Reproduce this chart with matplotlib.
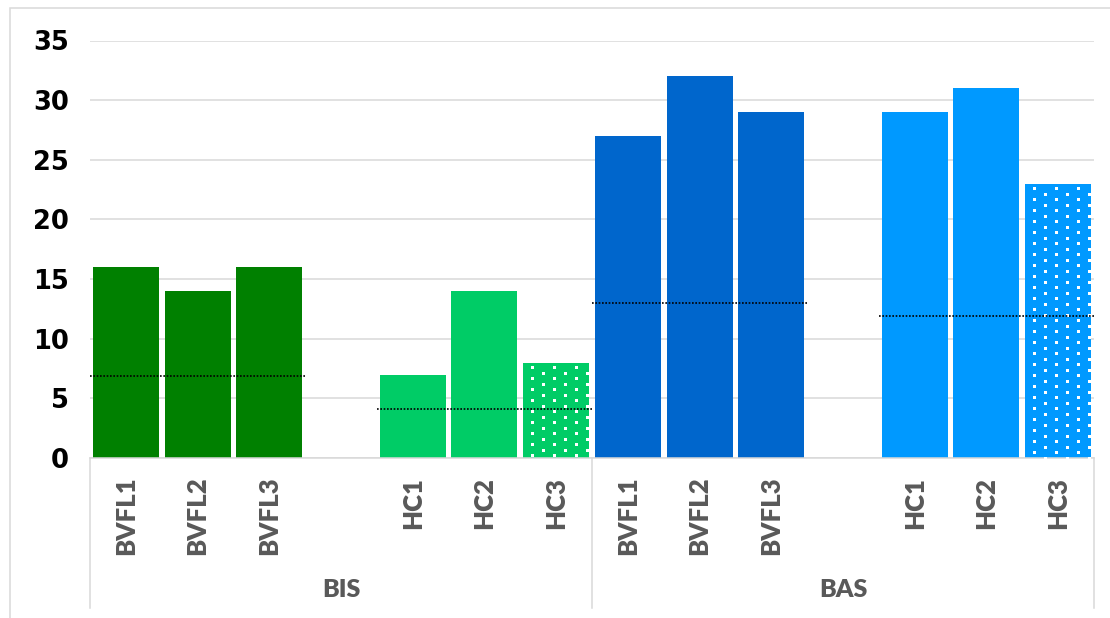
import numpy as np
import matplotlib
matplotlib.use("Agg")
import matplotlib.pyplot as plt
from matplotlib.patches import Rectangle
from matplotlib.transforms import blended_transform_factory

# ---- data -------------------------------------------------------------
groups = ["BIS", "BAS"]
subjects = ["BVFL1", "BVFL2", "BVFL3", "HC1", "HC2", "HC3"]

bis_bvfl = [16, 14, 16]
bis_hc = [7, 14, 8]
bas_bvfl = [27, 32, 29]
bas_hc = [29, 31, 23]

# group reference levels (dotted lines)
bis_bvfl_ref = 6.9
bis_hc_ref = 4.1
bas_bvfl_ref = 13.0
bas_hc_ref = 11.9

y_ticks = [0, 5, 10, 15, 20, 25, 30, 35]

# ---- style -------------------------------------------------------------
C_BIS_BVFL = "#008000"
C_BIS_HC = "#00CC66"
C_BAS_BVFL = "#0066CC"
C_BAS_HC = "#0099FF"
GRID = "#D9D9D9"
TXT_GRAY = "#595959"
LABEL_FONT = "Lato"
LABEL_WEIGHT = 800

W, H, DPI = 1110, 618, 100
fig = plt.figure(figsize=(W / DPI, H / DPI), dpi=DPI)
fig.patch.set_facecolor("white")

ax_l, ax_r, ax_b, ax_t = 90, 1094, 458, 40.5
ax = fig.add_axes([ax_l / W, (H - ax_b) / H, (ax_r - ax_l) / W, (ax_b - ax_t) / H])

# slot layout: each group has 3 BVFL bars, an empty slot, then 3 HC bars
series = [
    (bis_bvfl, 0, C_BIS_BVFL, bis_bvfl_ref),
    (bis_hc, 4, C_BIS_HC, bis_hc_ref),
    (bas_bvfl, 7, C_BAS_BVFL, bas_bvfl_ref),
    (bas_hc, 11, C_BAS_HC, bas_hc_ref),
]
bar_w = 0.92

ax.set_xlim(-0.5, 13.5)
ax.set_ylim(0, 35)

patterned = []
tick_pos, tick_lab = [], []
for vals, start, color, ref in series:
    xs = np.arange(start, start + len(vals))
    bars = ax.bar(xs, vals, width=bar_w, color=color, linewidth=0, zorder=2)
    # third HC bar carries a dotted fill pattern
    if start in (4, 11):
        patterned.append(bars[-1])
    names = subjects[:3] if start in (0, 7) else subjects[3:]
    tick_pos.extend(xs)
    tick_lab.extend(names)
    ax.plot([start - 0.5, start + 2.5], [ref, ref], color="black",
            lw=1.2, linestyle=(0, (1, 1)), zorder=4)

# gridlines and axes
ax.set_yticks(y_ticks)
ax.set_yticklabels([str(v) for v in y_ticks], fontsize=18.5, fontweight="bold",
                   color="black", fontfamily="DejaVu Sans")
ax.yaxis.grid(True, color=GRID, linewidth=1.1, zorder=0)
ax.set_axisbelow(True)
for s in ["left", "right", "top"]:
    ax.spines[s].set_visible(False)
ax.spines["bottom"].set_color(GRID)
ax.spines["bottom"].set_linewidth(1.1)
ax.tick_params(axis="y", length=0, pad=15)

ax.set_xticks(tick_pos)
ax.set_xticklabels(tick_lab, rotation=90, fontsize=18.5, fontweight=LABEL_WEIGHT,
                   color=TXT_GRAY, fontfamily=LABEL_FONT)
ax.tick_params(axis="x", length=0, pad=13.5)

# white dot pattern (staggered lattice) clipped to the patterned bars
fig.canvas.draw()
for bar in patterned:
    x0, y0 = bar.get_x(), 0
    x1, y1 = bar.get_x() + bar.get_width(), bar.get_height()
    (px0, py0), (px1, py1) = ax.transData.transform([(x0, y0), (x1, y1)])
    pts = []
    dx, dy = 22.0, 11.0
    for yy in np.arange(py1 - 4.5, py0 - 12, -dy):
        for xx in np.arange(px0 + 9, px1 + 2, dx):
            pts.append((xx, yy))
            pts.append((xx + dx / 2, yy - dy / 2))
    pts = np.array(pts)
    dpts = ax.transData.inverted().transform(pts)
    sc = ax.scatter(dpts[:, 0], dpts[:, 1], marker="s", s=(3.0 * 72 / DPI) ** 2,
                    color="white", linewidths=0, zorder=3)
    sc.set_clip_path(bar)

# multi-level category axis: separators and group names
trans = blended_transform_factory(ax.transData, ax.transAxes)
depth = -(608 - ax_b) / (ax_b - ax_t)
for xv in (-0.5, 6.5, 13.5):
    ax.plot([xv, xv], [0, depth], color=GRID, lw=1.1, transform=trans,
            clip_on=False, zorder=1)
for name, xc in zip(groups, (3, 10)):
    ax.text(xc, -(590 - ax_b) / (ax_b - ax_t), name, transform=trans,
            ha="center", va="center", fontsize=18, fontweight=LABEL_WEIGHT,
            color=TXT_GRAY, fontfamily=LABEL_FONT)

# outer chart frame
fig.add_artist(Rectangle((10 / W, -0.02), 1.1, (H - 8) / H + 0.02,
                         transform=fig.transFigure, fill=False,
                         edgecolor=GRID, linewidth=1.1))

fig.savefig("out.png", dpi=DPI)
